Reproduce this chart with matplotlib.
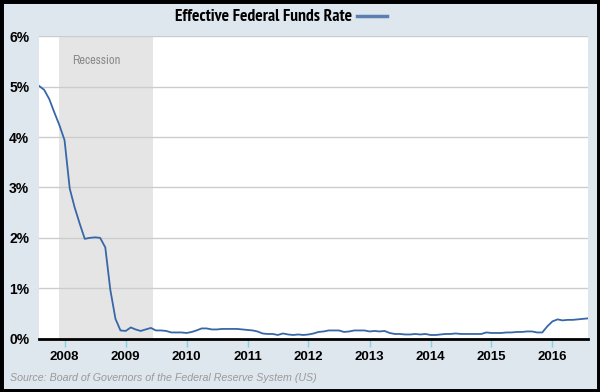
import matplotlib
matplotlib.use("Agg")
import matplotlib.pyplot as plt
from matplotlib import font_manager
import pandas as pd

title = "Effective Federal Funds Rate"
source = "Source: Board of Governors of the Federal Reserve System (US)"
start_month = "2007-08-01"
rates = [
    5.02, 4.94, 4.76, 4.49, 4.24,
    3.94, 2.98, 2.61, 2.28, 1.98, 2.00, 2.01, 2.00, 1.81, 0.97, 0.39, 0.16,
    0.15, 0.22, 0.18, 0.15, 0.18, 0.21, 0.16, 0.16, 0.15, 0.12, 0.12, 0.12,
    0.11, 0.13, 0.16, 0.20, 0.20, 0.18, 0.18, 0.19, 0.19, 0.19, 0.19, 0.18,
    0.17, 0.16, 0.14, 0.10, 0.09, 0.09, 0.07, 0.10, 0.08, 0.07, 0.08, 0.07,
    0.08, 0.10, 0.13, 0.14, 0.16, 0.16, 0.16, 0.13, 0.14, 0.16, 0.16, 0.16,
    0.14, 0.15, 0.14, 0.15, 0.11, 0.09, 0.09, 0.08, 0.08, 0.09, 0.08, 0.09,
    0.07, 0.07, 0.08, 0.09, 0.09, 0.10, 0.09, 0.09, 0.09, 0.09, 0.09, 0.12,
    0.11, 0.11, 0.11, 0.12, 0.12, 0.13, 0.13, 0.14, 0.14, 0.12, 0.12, 0.24,
    0.34, 0.38, 0.36, 0.37, 0.37, 0.38, 0.39, 0.40,
]
recession = ("2007-12-01", "2009-06-15")
recession_label = "Recession"
y_ticks = [0, 1, 2, 3, 4, 5, 6]
x_years = list(range(2008, 2017))

dates = pd.date_range(start_month, periods=len(rates), freq="MS")

fl = font_manager.fontManager.ttflist
names = {f.name for f in fl}
bold_names = {f.name for f in fl if isinstance(f.weight, int) and f.weight >= 700 and f.style == "normal"} | \
             {f.name for f in fl if f.weight in ("bold", "heavy", "black") and f.style == "normal"}


def pick(cands, pool, default="Liberation Sans"):
    for c in cands:
        if c in pool:
            return c
    return default


narrow = pick(["Archivo Narrow", "Roboto Condensed", "PT Sans Narrow"], names)
narrow_bold = pick(["Archivo Narrow", "PT Sans Narrow", "Roboto Condensed", "Fira Sans Condensed",
                    "IBM Plex Sans Condensed", "Encode Sans Condensed"], bold_names)

bg = "#dee6ee"
fig = plt.figure(figsize=(6, 3.92), dpi=100, facecolor=bg)
fig.patches.append(plt.Rectangle((0, 0), 1, 1, transform=fig.transFigure,
                                 fill=False, edgecolor="black", linewidth=5, zorder=10))
ax = fig.add_axes([39/600, 1-338.5/392, (588-39)/600, (338.5-36.5)/392])
ax.set_facecolor("white")

ax.axvspan(pd.Timestamp(recession[0]), pd.Timestamp(recession[1]), color="#e5e5e5", zorder=0, lw=0)
ax.text(pd.Timestamp("2008-07-10"), 5.53, recession_label, ha="center", va="center",
        fontsize=9, color="#8a8a8a", family=narrow)

for y in y_ticks[1:]:
    ax.axhline(y, color="#cccccc", lw=1, zorder=1)
ax.axhline(0, color="black", lw=2, zorder=3, clip_on=False)

ax.plot(dates, rates, color="#3867a8", lw=1.3, zorder=2)

ax.set_xlim(dates[0], dates[-1])
ax.set_ylim(0, 6)
for s in ax.spines.values():
    s.set_visible(False)

ax.set_yticks(y_ticks)
ax.set_yticklabels([f"{v}%" for v in y_ticks], fontsize=10, fontweight="bold", family="Liberation Sans")
ax.tick_params(axis="y", length=0, pad=7)
ax.set_xticks([pd.Timestamp(f"{y}-01-01") for y in x_years])
ax.set_xticklabels([str(y) for y in x_years], fontsize=9.5, fontweight="bold", family="Liberation Sans")
ax.tick_params(axis="x", length=6, width=1, color="#8ad0e4", pad=3)

fig.text(352/600, 1-17/392, title, ha="right", va="center", fontsize=12.6,
         fontweight="bold", family=narrow_bold)
fig.lines.append(plt.Line2D([357/600, 387/600], [1-16/392, 1-16/392], color="#5b7fb2", lw=2.5,
                            transform=fig.transFigure))
fig.text(10/600, 1-378/392, source, ha="left", va="center", fontsize=7.7, style="italic",
         color="#9a9a9a", family="Liberation Sans")

fig.savefig("out.png", dpi=100, facecolor=bg)
